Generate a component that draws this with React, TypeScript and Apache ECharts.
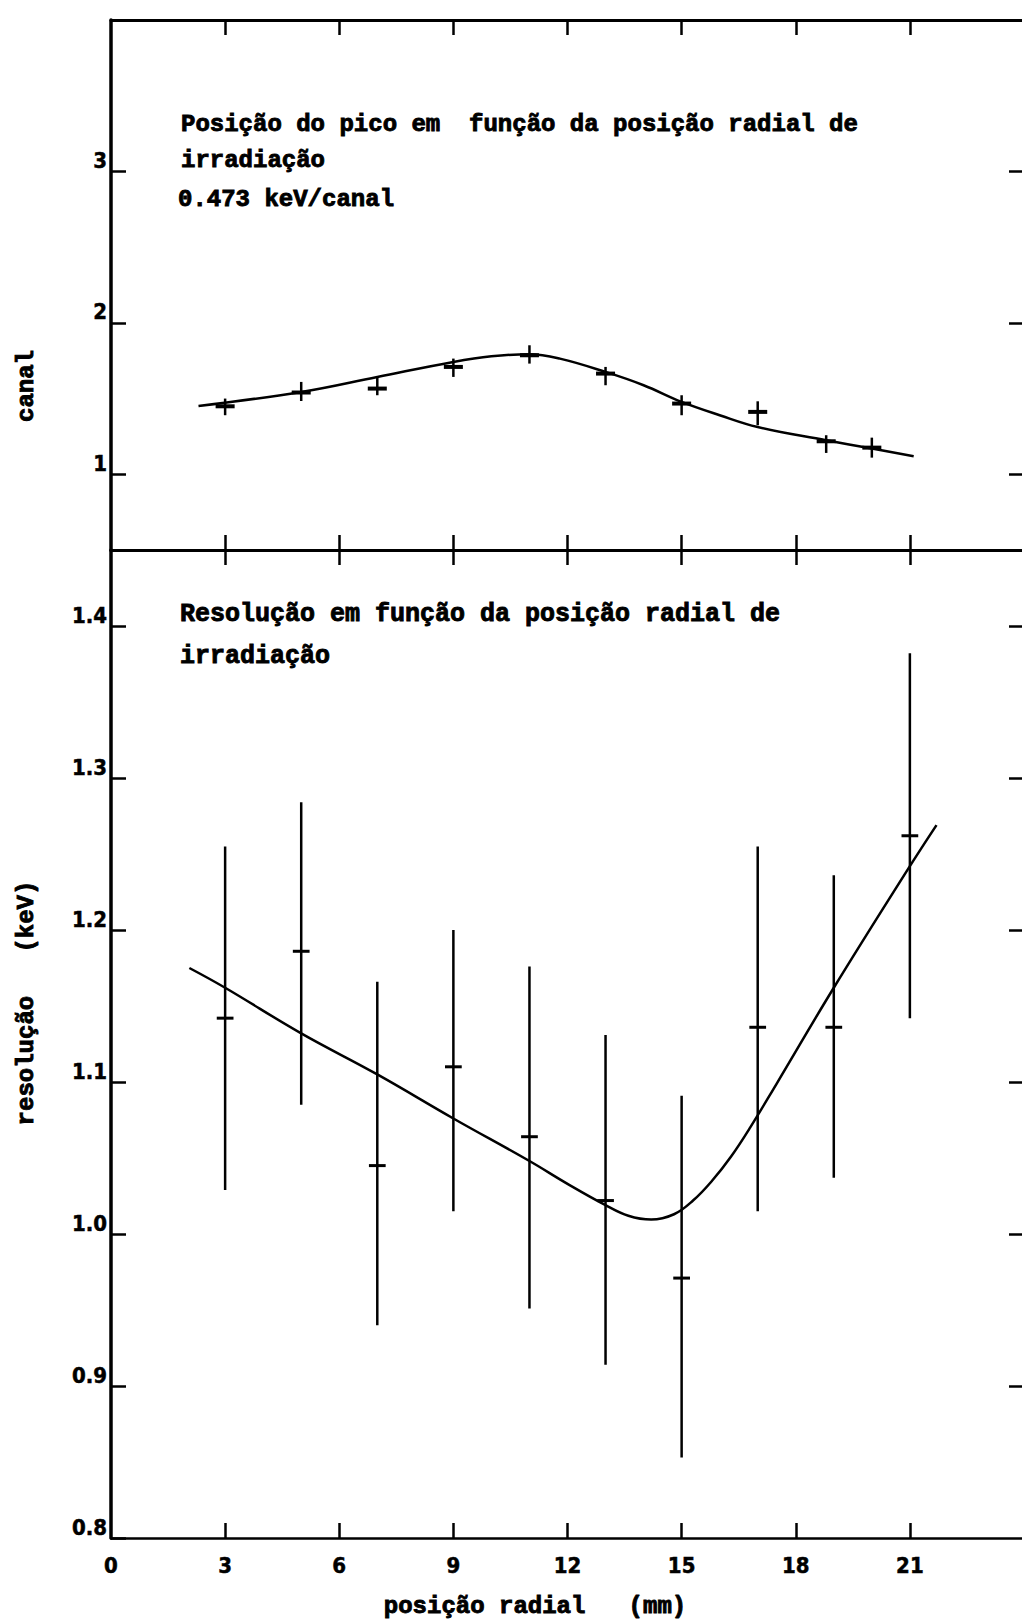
import React, { useEffect, useRef } from "react";
import * as echarts from "echarts";

// Peak position vs. radial irradiation position (upper panel)
const peakX = [3, 5, 7, 9, 11, 13, 15, 17, 18.8, 20];
const peakY = [1.449, 1.54, 1.566, 1.709, 1.786, 1.665, 1.467, 1.412, 1.218, 1.176];
const peakLow = [1.39, 1.484, 1.522, 1.643, 1.731, 1.588, 1.39, 1.324, 1.141, 1.11];
const peakHigh = [1.5, 1.61, 1.643, 1.764, 1.852, 1.709, 1.522, 1.482, 1.258, 1.242];
const peakFitX = [2.3, 5, 7, 9, 10, 11, 11.8, 13, 14, 15, 16, 17, 18.8, 20, 21.1];
const peakFitY = [1.451, 1.544, 1.643, 1.742, 1.779, 1.793, 1.764, 1.676, 1.588, 1.478, 1.39, 1.312, 1.225, 1.17, 1.119];

// Resolution vs. radial irradiation position (lower panel)
const resX = [3, 5, 7, 9, 11, 13, 15, 17, 19, 21];
const resY = [1.142, 1.186, 1.045, 1.11, 1.064, 1.022, 0.971, 1.136, 1.136, 1.262];
const resLow = [1.029, 1.085, 0.94, 1.015, 0.951, 0.914, 0.853, 1.015, 1.037, 1.142];
const resHigh = [1.255, 1.284, 1.166, 1.2, 1.176, 1.131, 1.091, 1.255, 1.236, 1.382];
const resFitX = [2.06, 3, 5, 7, 9, 11, 12, 13, 13.6, 14.2, 14.8, 15.3, 15.8, 16.3, 16.8, 17.5, 19, 21, 21.7];
const resFitY = [1.175, 1.162, 1.132, 1.105, 1.076, 1.048, 1.033, 1.019, 1.012, 1.0095, 1.013, 1.022, 1.035, 1.051, 1.07, 1.099, 1.162, 1.242, 1.269];

// Axis ticks
const xTickValues = [3, 6, 9, 12, 15, 18, 21];
const xLabelValues = [0, 3, 6, 9, 12, 15, 18, 21];
const canalTicks = [1, 2, 3];
const resTicks = [0.8, 0.9, 1.0, 1.1, 1.2, 1.3, 1.4];

const INK = "#000";
const MONO = '"Liberation Mono", "DejaVu Sans Mono", monospace';
const NARROW = '"DejaVu Sans Condensed", "Liberation Sans Narrow", "Liberation Sans", sans-serif';

function crossRenderer(halfWidth: number, vWidth: number, hWidth: number) {
  return (_params: any, api: any) => {
    const x = api.value(0);
    const y = api.value(1);
    const lo = api.value(2);
    const hi = api.value(3);
    const top = api.coord([x, hi]);
    const bot = api.coord([x, lo]);
    const l = api.coord([x - halfWidth, y]);
    const r = api.coord([x + halfWidth, y]);
    return {
      type: "group",
      children: [
        { type: "line", shape: { x1: top[0], y1: top[1], x2: bot[0], y2: bot[1] }, style: { stroke: INK, lineWidth: vWidth } },
        { type: "line", shape: { x1: l[0], y1: l[1], x2: r[0], y2: r[1] }, style: { stroke: INK, lineWidth: hWidth } },
      ],
    };
  };
}

function xAxisDef(gridIndex: number, position: "top" | "bottom", withLabels: boolean, lineWidth: number) {
  return {
    type: "value",
    gridIndex,
    position,
    min: 0,
    max: 24,
    axisLine: { show: true, onZero: false, lineStyle: { color: INK, width: lineWidth } },
    axisTick: { show: true, inside: true, length: 15, customValues: xTickValues, lineStyle: { color: INK, width: 2.5 } },
    axisLabel: withLabels
      ? {
          show: true,
          customValues: xLabelValues,
          margin: 16,
          color: INK,
          fontFamily: NARROW,
          fontWeight: "bold",
          fontSize: 22,
          textBorderColor: INK,
          textBorderWidth: 0.5,
        }
      : { show: false },
    splitLine: { show: false },
  };
}

function yAxisDef(gridIndex: number, position: "left" | "right", min: number, max: number, ticks: number[], withLabels: boolean, digits: number) {
  return {
    type: "value",
    gridIndex,
    position,
    min,
    max,
    axisLine: { show: true, onZero: false, lineStyle: { color: INK, width: 3.5 } },
    axisTick: { show: true, inside: true, length: 15, customValues: ticks, lineStyle: { color: INK, width: 2.5 } },
    axisLabel: withLabels
      ? {
          show: true,
          customValues: ticks,
          margin: 4,
          color: INK,
          fontFamily: NARROW,
          fontWeight: "bold",
          fontSize: 22,
          textBorderColor: INK,
          textBorderWidth: 0.5,
          verticalAlign: "bottom",
          formatter: (v: number) => v.toFixed(digits),
        }
      : { show: false },
    splitLine: { show: false },
  };
}

function label(text: string, x: number, y: number, size: number, extra: any = {}) {
  return {
    type: "text",
    x,
    y,
    silent: true,
    ...extra,
    style: {
      text,
      fill: INK,
      stroke: INK,
      lineWidth: 0.9,
      fontFamily: MONO,
      fontWeight: "bold",
      fontSize: size,
      align: extra.align || "left",
      verticalAlign: "middle",
    },
  };
}

export default function App() {
  const ref = useRef<HTMLDivElement>(null);

  useEffect(() => {
    if (!ref.current) return;
    const chart = echarts.init(ref.current, null, { renderer: "svg" });

    const peakData = peakX.map((x, i) => [x, peakY[i], peakLow[i], peakHigh[i]]);
    const resData = resX.map((x, i) => [x, resY[i], resLow[i], resHigh[i]]);

    chart.setOption({
      animation: false,
      backgroundColor: "#fff",
      grid: [
        { left: 111, top: 20, width: 913, height: 530 },
        { left: 111, top: 550, width: 913, height: 988 },
      ],
      xAxis: [
        xAxisDef(0, "bottom", false, 3),
        xAxisDef(0, "top", false, 3),
        xAxisDef(1, "top", false, 3),
        xAxisDef(1, "bottom", true, 2.5),
      ],
      yAxis: [
        yAxisDef(0, "left", 0.5, 4, canalTicks, true, 0),
        yAxisDef(0, "right", 0.5, 4, canalTicks, false, 0),
        yAxisDef(1, "left", 0.8, 1.45, resTicks, true, 1),
        yAxisDef(1, "right", 0.8, 1.45, resTicks.slice(1), false, 1),
      ],
      series: [
        {
          type: "line",
          xAxisIndex: 0,
          yAxisIndex: 0,
          data: peakFitX.map((x, i) => [x, peakFitY[i]]),
          smooth: 0.4,
          showSymbol: false,
          lineStyle: { color: INK, width: 2.5 },
        },
        {
          type: "custom",
          xAxisIndex: 0,
          yAxisIndex: 0,
          data: peakData,
          encode: { x: 0, y: 1 },
          renderItem: crossRenderer(0.25, 2.5, 4),
        },
        {
          type: "line",
          xAxisIndex: 3,
          yAxisIndex: 2,
          data: resFitX.map((x, i) => [x, resFitY[i]]),
          smooth: 0.4,
          showSymbol: false,
          lineStyle: { color: INK, width: 2.5 },
        },
        {
          type: "custom",
          xAxisIndex: 3,
          yAxisIndex: 2,
          data: resData,
          encode: { x: 0, y: 1 },
          renderItem: crossRenderer(0.22, 2.5, 3),
        },
      ],
      graphic: [
        label("Posição do pico em  função da posição radial de", 181, 124, 24),
        label("irradiação", 181, 160, 24),
        label("0.473 keV/canal", 178, 199, 24),
        label("Resolução em função da posição radial de", 180, 614, 25),
        label("irradiação", 180, 656, 25),
        label("canal", 26, 386, 24, { rotation: Math.PI / 2, align: "center" }),
        label("resolução   (keV)", 26, 1003, 24, { rotation: Math.PI / 2, align: "center" }),
        label("posição radial   (mm)", 535, 1606, 24, { align: "center" }),
      ],
    });

    return () => chart.dispose();
  }, []);

  return (
    <div style={{ position: "absolute", left: 0, top: 0, width: 1022, height: 1620, overflow: "hidden", background: "#fff" }}>
      <div ref={ref} style={{ width: 1040, height: 1620 }} />
    </div>
  );
}
